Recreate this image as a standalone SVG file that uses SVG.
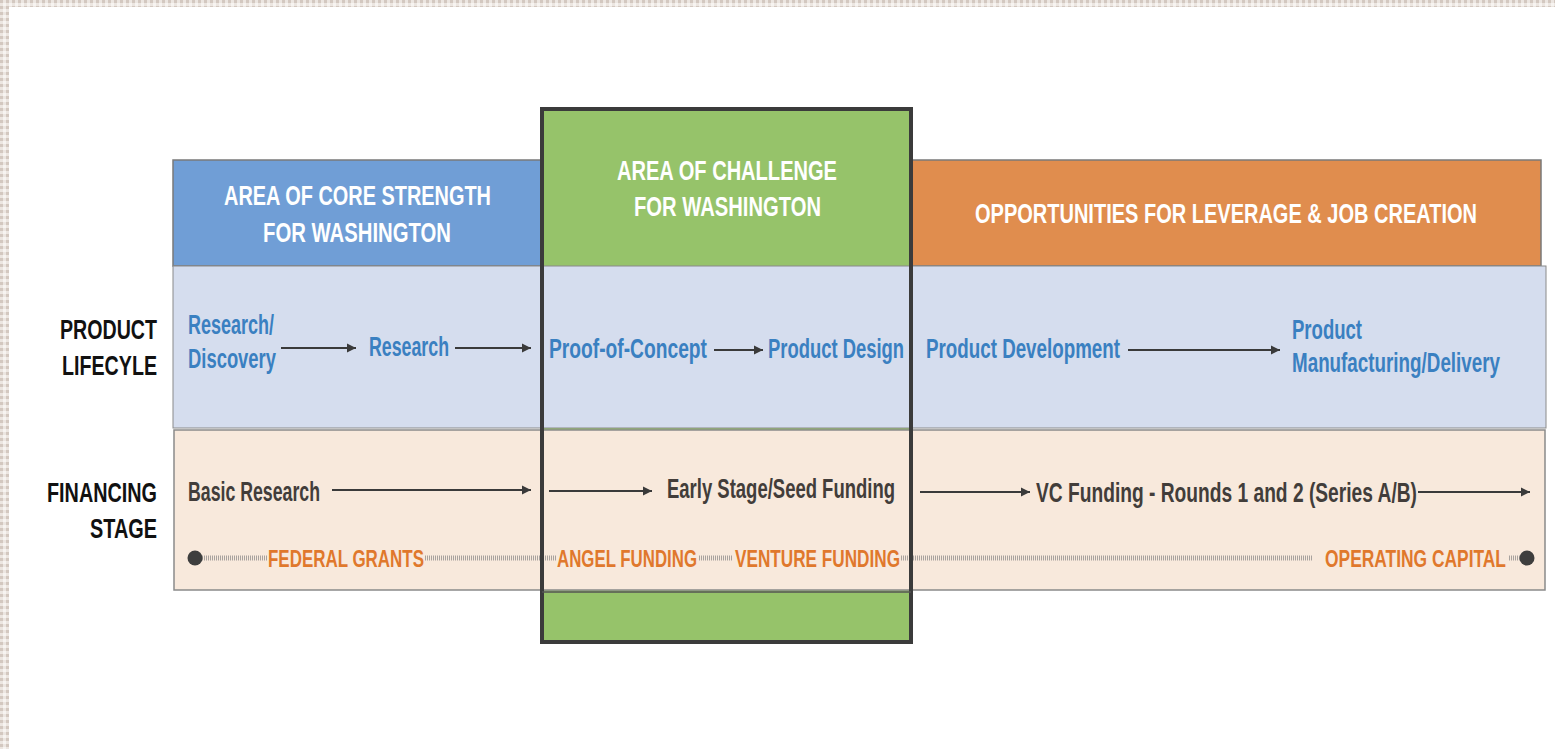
<svg xmlns="http://www.w3.org/2000/svg" width="1555" height="749" viewBox="0 0 1555 749">
<defs>
<pattern id="chk" width="6" height="6" patternUnits="userSpaceOnUse">
<rect width="6" height="6" fill="#ece6e1"/>
<rect width="3" height="3" fill="#d3c8c0"/>
<rect x="3" y="3" width="3" height="3" fill="#f7f4f1"/>
</pattern>
<marker id="ah" markerWidth="10" markerHeight="10" refX="9" refY="5" orient="auto" markerUnits="userSpaceOnUse">
<path d="M0,0.5 L9,5 L0,9.5 Z" fill="#3a3a3a"/>
</marker>
<style>
.hd{font-family:"Liberation Sans",Arial,sans-serif;font-weight:bold;font-size:27px;fill:#ffffff}
.lb{font-family:"Liberation Sans",Arial,sans-serif;font-weight:bold;font-size:27px;fill:#111111}
.bl{font-family:"Liberation Sans",Arial,sans-serif;font-weight:bold;font-size:27px;fill:#3a80c1}
.dk{font-family:"Liberation Sans",Arial,sans-serif;font-weight:bold;font-size:27px;fill:#423d3a}
.or{font-family:"Liberation Sans",Arial,sans-serif;font-weight:bold;font-size:24px;fill:#e0782c}
.arr{stroke:#3a3a3a;stroke-width:2;fill:none;marker-end:url(#ah)}
.hatch{stroke:#a8a29e;stroke-width:5;stroke-dasharray:1 1;fill:none}
</style>
</defs>
<rect width="1555" height="749" fill="#ffffff"/>
<rect x="0" y="0" width="1555" height="7" fill="url(#chk)"/>
<rect x="0" y="0" width="9" height="749" fill="url(#chk)"/>

<g id="green-box-fill">
<rect x="542" y="109" width="369" height="533" fill="#96c36a"/>
</g>
<g id="header-core">
<rect x="173" y="160" width="369" height="106" fill="#709ed6" stroke="#7a7a7a" stroke-width="1.5"/>
<text class="hd" x="224" y="205" textLength="267" lengthAdjust="spacingAndGlyphs">AREA OF CORE STRENGTH</text>
<text class="hd" x="263" y="242" textLength="188" lengthAdjust="spacingAndGlyphs">FOR WASHINGTON</text>
</g>
<g id="header-opportunities">
<rect x="911" y="160" width="630" height="106" fill="#e08d4e" stroke="#7a7a7a" stroke-width="1.5"/>
<text class="hd" x="975" y="223" textLength="502" lengthAdjust="spacingAndGlyphs">OPPORTUNITIES FOR LEVERAGE &amp; JOB CREATION</text>
</g>
<g id="header-challenge">
<text class="hd" x="617" y="180" textLength="220" lengthAdjust="spacingAndGlyphs">AREA OF CHALLENGE</text>
<text class="hd" x="634" y="216" textLength="187" lengthAdjust="spacingAndGlyphs">FOR WASHINGTON</text>
</g>

<g id="row-product">
<rect x="173" y="266" width="1373" height="162" fill="#d5ddee" stroke="#8a8a8a" stroke-width="1"/>
<text class="lb" x="157" y="339" text-anchor="end" textLength="97" lengthAdjust="spacingAndGlyphs">PRODUCT</text>
<text class="lb" x="157" y="375" text-anchor="end" textLength="95" lengthAdjust="spacingAndGlyphs">LIFECYLE</text>
</g>
<g id="row-financing">
<rect x="174" y="430" width="1371" height="160" fill="#f8e9dc" stroke="#8a8a8a" stroke-width="1.5"/>
<text class="lb" x="157" y="502" text-anchor="end" textLength="110" lengthAdjust="spacingAndGlyphs">FINANCING</text>
<text class="lb" x="157" y="538" text-anchor="end" textLength="67" lengthAdjust="spacingAndGlyphs">STAGE</text>
</g>

<g id="node-research-discovery">
<text class="bl" x="188" y="334" textLength="86" lengthAdjust="spacingAndGlyphs">Research/</text>
<text class="bl" x="188" y="368" textLength="88" lengthAdjust="spacingAndGlyphs">Discovery</text>
</g>
<g id="node-research"><text class="bl" x="369" y="356" textLength="80" lengthAdjust="spacingAndGlyphs">Research</text></g>
<g id="node-poc"><text class="bl" x="549" y="358" textLength="158" lengthAdjust="spacingAndGlyphs">Proof-of-Concept</text></g>
<g id="node-design"><text class="bl" x="768" y="358" textLength="136" lengthAdjust="spacingAndGlyphs">Product Design</text></g>
<g id="node-development"><text class="bl" x="926" y="358" textLength="194" lengthAdjust="spacingAndGlyphs">Product Development</text></g>
<g id="node-manufacturing">
<text class="bl" x="1292" y="339" textLength="70" lengthAdjust="spacingAndGlyphs">Product</text>
<text class="bl" x="1292" y="372" textLength="208" lengthAdjust="spacingAndGlyphs">Manufacturing/Delivery</text>
</g>

<g id="node-basic"><text class="dk" x="188" y="501" textLength="132" lengthAdjust="spacingAndGlyphs">Basic Research</text></g>
<g id="node-early"><text class="dk" x="667" y="498" textLength="228" lengthAdjust="spacingAndGlyphs">Early Stage/Seed Funding</text></g>
<g id="node-vc"><text class="dk" x="1036" y="502" textLength="381" lengthAdjust="spacingAndGlyphs">VC Funding - Rounds 1 and 2 (Series A/B)</text></g>

<g id="funding-line">
<line class="hatch" x1="200" y1="558" x2="267" y2="558"/>
<line class="hatch" x1="425" y1="558" x2="556" y2="558"/>
<line class="hatch" x1="699" y1="558" x2="733" y2="558"/>
<line class="hatch" x1="901" y1="558" x2="1312" y2="558"/>
<line class="hatch" x1="1509" y1="558" x2="1522" y2="558"/>
<circle cx="195" cy="558" r="7.5" fill="#3e3e3e"/>
<circle cx="1527" cy="558" r="7.5" fill="#3e3e3e"/>
<text class="or" x="268" y="567" textLength="156" lengthAdjust="spacingAndGlyphs">FEDERAL GRANTS</text>
<text class="or" x="557" y="567" textLength="140" lengthAdjust="spacingAndGlyphs">ANGEL FUNDING</text>
<text class="or" x="735" y="567" textLength="165" lengthAdjust="spacingAndGlyphs">VENTURE FUNDING</text>
<text class="or" x="1325" y="567" textLength="181" lengthAdjust="spacingAndGlyphs">OPERATING CAPITAL</text>
</g>

<g id="connectors">
<line class="arr" x1="281" y1="348" x2="356" y2="348"/>
<line class="arr" x1="455" y1="348" x2="531" y2="348"/>
<line class="arr" x1="714" y1="350" x2="763" y2="350"/>
<line class="arr" x1="1128" y1="350" x2="1280" y2="350"/>
<line class="arr" x1="332" y1="490" x2="531" y2="490"/>
<line class="arr" x1="549" y1="491" x2="652" y2="491"/>
<line class="arr" x1="920" y1="492" x2="1030" y2="492"/>
<line class="arr" x1="1418" y1="492" x2="1530" y2="492"/>
</g>

<g id="green-box-border">
<rect x="542" y="109" width="369" height="533" fill="none" stroke="#3b3b3b" stroke-width="4"/>
<line x1="542" y1="592" x2="911" y2="592" stroke="#555" stroke-width="1.5"/>
</g>
</svg>
